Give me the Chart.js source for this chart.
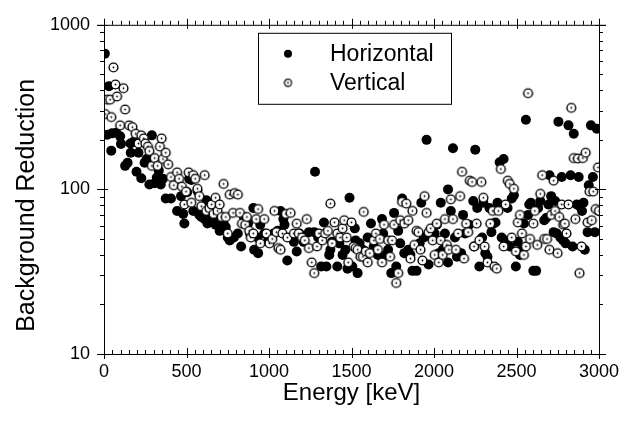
<!DOCTYPE html>
<html>
<head>
<meta charset="utf-8">
<script src="https://cdn.jsdelivr.net/npm/chart.js@4"></script>
<style>
  html, body { margin: 0; padding: 0; background: #fff; }
  #wrap { width: 627px; height: 427px; }
</style>
</head>
<body>
<div id="wrap"><canvas id="chart" width="627" height="427"></canvas></div>
<script>
// values (energy in keV, background reduction factor)
var horizontalEnergy = [
    5, 30, 20, 49, 44, 74, 98, 103, 128, 143, 160, 162, 180, 197, 209, 226, 246, 258, 275, 290,
    275, 307, 320, 332, 344, 357, 374, 406, 443, 467, 480, 487, 504, 516, 529, 541, 566, 578, 590, 610,
    620, 627, 644, 664, 676, 701, 725, 738, 750, 762, 787, 811, 831, 848, 873, 885, 905, 910, 930, 934,
    947, 971, 996, 1028, 1053, 1070, 1087, 1094, 1111, 1136, 1151, 1168, 1185, 1210, 1242, 1279, 1274, 1298, 1316, 1333,
    1348, 1365, 1372, 1382, 1414, 1426, 1446, 1463, 1488, 1476, 1505, 1520, 1525, 1537, 1549, 1569, 1598, 1618, 1635, 1660,
    1685, 1692, 1709, 1722, 1741, 1758, 1771, 1783, 1795, 1807, 1820, 1844, 1857, 1869, 1894, 1913, 1923, 1938, 1955, 1967,
    1987, 2004, 2017, 2029, 2041, 2053, 2066, 2085, 2085, 2102, 2115, 2127, 2139, 2164, 2176, 2188, 2213, 2238, 2243, 2250,
    2262, 2275, 2292, 2299, 2311, 2324, 2336, 2348, 2361, 2373, 2385, 2398, 2410, 2422, 2430, 2446, 2459, 2471, 2484, 2496,
    2508, 2521, 2533, 2545, 2557, 2570, 2577, 2587, 2602, 2619, 2631, 2644, 2668, 2680, 2693, 2700, 2710, 2725, 2734, 2744,
    2754, 2766, 2774, 2783, 2798, 2815, 2828, 2840, 2847, 2865, 2877, 2882, 2897, 2906, 2914, 2931, 2938, 2951, 2963, 2975,
    2987, 2999
];
var horizontalReduction = [
    668, 424, 215, 219, 172, 221, 210, 189, 139, 145, 190, 167, 195, 128, 167, 117, 145, 153, 152, 213,
    107, 109, 118, 130, 107, 116, 88, 88, 74, 91, 71, 62, 96, 116, 114, 74, 98, 70, 68, 66,
    86, 62, 68, 66, 61, 56, 62, 59, 51, 49, 51, 54, 45, 68, 62, 54, 77, 43, 51, 41,
    61, 54, 49, 54, 56, 74, 66, 61, 37, 51, 48, 42, 54, 48, 55, 128, 55, 51, 34, 63,
    34, 40, 43, 48, 34, 47, 40, 43, 89, 33, 34, 58, 49, 31, 47, 43, 51, 62, 45, 40,
    66, 54, 40, 43, 31, 72, 34, 56, 47, 88, 41, 43, 40, 32, 32, 47, 83, 51, 200, 35,
    51, 54, 61, 41, 83, 43, 54, 36, 100, 74, 178, 51, 39, 41, 70, 54, 61, 85, 45, 174,
    77, 34, 51, 83, 41, 39, 77, 55, 62, 63, 83, 146, 51, 153, 49, 77, 45, 88, 92, 34,
    48, 40, 43, 62, 265, 70, 81, 83, 32, 32, 77, 85, 65, 67, 81, 122, 91, 55, 85, 54,
    258, 51, 119, 49, 47, 245, 122, 45, 218, 81, 119, 79, 74, 83, 43, 55, 106, 245, 119, 55,
    234, 74
];
var verticalEnergy = [
    7, 20, 37, 44, 57, 69, 79, 98, 118, 128, 152, 172, 192, 209, 226, 241, 251, 266, 275, 290,
    307, 325, 339, 349, 357, 374, 389, 406, 423, 443, 455, 472, 487, 497, 513, 529, 541, 553, 566, 578,
    590, 610, 620, 639, 652, 664, 676, 688, 701, 713, 725, 738, 750, 762, 782, 792, 811, 824, 836, 856,
    866, 880, 890, 905, 922, 934, 947, 971, 984, 1003, 1020, 1033, 1045, 1057, 1070, 1082, 1102, 1111, 1131, 1151,
    1168, 1180, 1200, 1217, 1229, 1242, 1259, 1274, 1291, 1303, 1323, 1340, 1357, 1372, 1382, 1397, 1414, 1431, 1446, 1456,
    1471, 1480, 1500, 1513, 1525, 1537, 1554, 1569, 1574, 1586, 1598, 1611, 1635, 1648, 1660, 1672, 1685, 1697, 1722, 1734,
    1746, 1758, 1771, 1783, 1795, 1807, 1820, 1832, 1844, 1857, 1869, 1881, 1894, 1906, 1918, 1930, 1943, 1955, 1967, 1980,
    1992, 2004, 2017, 2029, 2041, 2053, 2066, 2078, 2090, 2102, 2115, 2133, 2146, 2158, 2170, 2182, 2195, 2207, 2217, 2231,
    2243, 2258, 2275, 2287, 2299, 2307, 2324, 2341, 2356, 2366, 2380, 2390, 2405, 2422, 2434, 2447, 2459, 2471, 2484, 2496,
    2508, 2521, 2533, 2545, 2557, 2570, 2582, 2602, 2611, 2626, 2644, 2656, 2668, 2685, 2700, 2710, 2725, 2734, 2749, 2759,
    2774, 2783, 2793, 2803, 2815, 2832, 2847, 2857, 2872, 2882, 2894, 2902, 2919, 2931, 2943, 2956, 2965, 2980, 2994, 3000
];
var verticalReduction = [
    287, 351, 351, 275, 551, 434, 367, 245, 412, 306, 245, 239, 218, 190, 213, 204, 190, 182, 171, 139,
    155, 139, 182, 204, 153, 167, 142, 119, 106, 127, 116, 104, 81, 97, 127, 83, 122, 116, 101, 91,
    79, 122, 74, 77, 81, 71, 89, 74, 81, 68, 108, 68, 54, 93, 72, 95, 93, 72, 62, 61,
    68, 56, 51, 54, 66, 76, 47, 66, 54, 47, 50, 74, 55, 44, 43, 54, 71, 51, 72, 54,
    62, 54, 51, 49, 66, 44, 36, 31, 45, 54, 49, 54, 56, 82, 47, 63, 54, 51, 58, 65,
    51, 36, 63, 45, 44, 43, 39, 39, 73, 42, 36, 41, 49, 54, 43, 50, 36, 61, 49, 39,
    49, 61, 27, 31, 65, 84, 62, 82, 65, 38, 74, 46, 56, 55, 43, 37, 91, 72, 55, 58,
    49, 40, 62, 36, 49, 40, 66, 46, 43, 87, 66, 43, 54, 91, 128, 38, 62, 55, 113, 111,
    45, 62, 49, 111, 89, 45, 36, 62, 74, 34, 33, 74, 133, 45, 81, 113, 108, 51, 101, 42,
    63, 70, 54, 40, 45, 384, 50, 62, 74, 46, 94, 122, 50, 50, 43, 70, 113, 74, 41, 68,
    81, 61, 62, 54, 81, 313, 155, 66, 154, 31, 45, 155, 167, 63, 97, 65, 97, 76, 136, 74
];
var xTickValues = [0, 500, 1000, 1500, 2000, 2500, 3000];
var yTickValues = [10, 100, 1000];
var yTitle = 'Background Reduction';

function toPoints(xs, ys) {
    var pts = [];
    for (var i = 0; i < xs.length; i++) {
        pts.push({x: xs[i], y: ys[i]});
    }
    return pts;
}

// open circle with a dot in the middle
function openMarker(r, lw) {
    var size = 2 * Math.ceil(r + lw) + 1;
    var c = document.createElement('canvas');
    c.width = size;
    c.height = size;
    var g = c.getContext('2d');
    var m = size / 2;
    g.beginPath();
    g.arc(m, m, r, 0, Math.PI * 2);
    g.fillStyle = '#fff';
    g.fill();
    g.lineWidth = lw;
    g.strokeStyle = '#000';
    g.stroke();
    g.beginPath();
    g.arc(m, m, 0.9, 0, Math.PI * 2);
    g.fillStyle = '#000';
    g.fill();
    return c;
}
var openPoint = openMarker(4.4, 1.4);
var openLegend = openMarker(3.6, 1.2);

// box around the plot, with the tick marks the way the original draws them
var framePlugin = {
    id: 'frame',
    afterDraw: function (chart) {
        var ctx = chart.ctx;
        var a = chart.chartArea;
        var xs = chart.scales.x, ys = chart.scales.y;
        ctx.save();
        ctx.strokeStyle = '#000';
        ctx.lineWidth = 1;
        ctx.beginPath();
        ctx.moveTo(a.left - 7, a.bottom + 0.5); ctx.lineTo(a.right + 7, a.bottom + 0.5);
        ctx.moveTo(a.left - 7, a.top + 0.5); ctx.lineTo(a.right + 7, a.top + 0.5);
        ctx.moveTo(a.left + 0.5, a.top - 6); ctx.lineTo(a.left + 0.5, a.bottom + 5);
        ctx.moveTo(a.right + 0.5, a.top - 6); ctx.lineTo(a.right + 0.5, a.bottom + 5);
        for (var v = 0; v <= 3000; v += 50) {
            var px = Math.round(xs.getPixelForValue(v)) + 0.5;
            var major = v % 500 === 0;
            ctx.moveTo(px, a.bottom + (major ? 4 : 0)); ctx.lineTo(px, a.bottom - (major ? 6 : 4));
            ctx.moveTo(px, a.top + (major ? 4 : 0)); ctx.lineTo(px, a.top - (major ? 6 : 4));
        }
        for (var d = 10; d <= 1000; d *= 10) {
            for (var m = 1; m <= 9; m++) {
                var val = d * m;
                if (val > 1000) break;
                var py = Math.round(ys.getPixelForValue(val)) + 0.5;
                var big = m === 1;
                ctx.moveTo(a.left + (big ? 4 : 0), py); ctx.lineTo(a.left - (big ? 7 : 4), py);
                ctx.moveTo(a.right - (big ? 4 : 0), py); ctx.lineTo(a.right + (big ? 7 : 4), py);
            }
        }
        ctx.stroke();

        // y title sits a little below the middle of the axis in the original
        ctx.font = '25px "Liberation Sans", Arial, sans-serif';
        ctx.fillStyle = '#000';
        ctx.textAlign = 'center';
        ctx.textBaseline = 'middle';
        ctx.translate(27, (a.top + a.bottom) / 2 + 16);
        ctx.rotate(-Math.PI / 2);
        ctx.fillText(yTitle, 0, 0);
        ctx.restore();
    }
};

// framed legend inside the plot
var legendBoxPlugin = {
    id: 'legendBox',
    afterDraw: function (chart) {
        var ctx = chart.ctx;
        var a = chart.chartArea;
        var bx = a.left + 154, by = a.top + 8, bw = 193, bh = 71;
        ctx.save();
        ctx.fillStyle = '#fff';
        ctx.fillRect(bx, by, bw, bh);
        ctx.strokeStyle = '#000';
        ctx.lineWidth = 1;
        ctx.strokeRect(bx + 0.5, by + 0.5, bw, bh);
        ctx.font = '23px "Liberation Sans", Arial, sans-serif';
        ctx.textBaseline = 'middle';
        ctx.fillStyle = '#000';
        var ds = chart.data.datasets;
        for (var i = 0; i < ds.length; i++) {
            var cy = by + 21 + i * 29;
            if (i === 0) {
                ctx.beginPath();
                ctx.arc(bx + 30, cy, 4, 0, Math.PI * 2);
                ctx.fill();
            } else {
                ctx.drawImage(openLegend, bx + 30 - openLegend.width / 2, cy - openLegend.height / 2);
            }
            ctx.fillText(ds[i].label, bx + 72, cy + 1);
        }
        ctx.restore();
    }
};

var tickFont = {family: '"Liberation Sans", Arial, sans-serif', size: 18};
var titleFont = {family: '"Liberation Sans", Arial, sans-serif', size: 24};

new Chart(document.getElementById('chart'), {
    type: 'scatter',
    data: {
        datasets: [
            {
                label: 'Horizontal',
                data: toPoints(horizontalEnergy, horizontalReduction),
                pointStyle: 'circle',
                pointRadius: 5,
                backgroundColor: '#000',
                borderColor: '#000',
                borderWidth: 0,
                order: 1
            },
            {
                label: 'Vertical',
                data: toPoints(verticalEnergy, verticalReduction),
                pointStyle: openPoint,
                pointRadius: 5,
                order: 0
            }
        ]
    },
    options: {
        responsive: false,
        animation: false,
        events: [],
        layout: {padding: {left: 0, right: 28, top: 15, bottom: 0}},
        plugins: {
            legend: {display: false},
            tooltip: {enabled: false}
        },
        scales: {
            x: {
                type: 'linear',
                min: 0,
                max: 3000,
                afterFit: function (s) { s.height = 73; },
                afterBuildTicks: function (s) {
                    s.ticks = xTickValues.map(function (v) { return {value: v}; });
                },
                ticks: {color: '#000', font: tickFont, padding: 7, maxRotation: 0,
                        callback: function (v) { return String(v); }},
                grid: {display: false, drawTicks: false},
                border: {display: false},
                title: {display: true, text: 'Energy [keV]', color: '#000', font: titleFont,
                        padding: {top: 0, bottom: 19}}
            },
            y: {
                type: 'logarithmic',
                min: 10,
                max: 1000,
                afterFit: function (s) { s.width = 104; },
                afterBuildTicks: function (s) {
                    s.ticks = yTickValues.map(function (v) { return {value: v}; });
                },
                ticks: {color: '#000', font: tickFont, padding: 14,
                        callback: function (v) { return String(v); }},
                grid: {display: false, drawTicks: false},
                border: {display: false},
                title: {display: false}
            }
        }
    },
    plugins: [framePlugin, legendBoxPlugin]
});
</script>
</body>
</html>
